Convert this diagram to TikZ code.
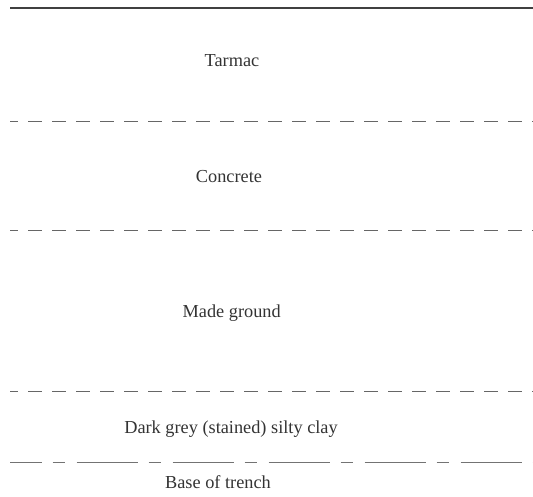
\documentclass[tikz,border=0pt]{standalone}
\usepackage{fontspec}
\setmainfont{Liberation Serif}
\begin{document}
\begin{tikzpicture}[x=1pt,y=-1pt,
  layername/.style={font=\fontsize{18.3}{22}\selectfont, text=black!80, anchor=base, inner sep=0pt},
  surface/.style={draw=black!75, line width=1.1pt},
  boundary/.style={draw=black!60, line width=0.8pt, dash pattern=on 13.5pt off 10.5pt, dash phase=6pt},
  trenchbase/.style={draw=black!55, line width=0.8pt, dash pattern=on 61pt off 11.2pt on 12.4pt off 11.4pt, dash phase=29.5pt}]
\useasboundingbox (0,0) rectangle (533,496);

% ground surface and layer boundaries
\coordinate (s0) at (10,8);      \coordinate (s1) at (533,8);
\coordinate (b1l) at (10,121.7); \coordinate (b1r) at (533,121.7);
\coordinate (b2l) at (10,230);   \coordinate (b2r) at (533,230);
\coordinate (b3l) at (10,391);   \coordinate (b3r) at (533,391);
\coordinate (b4l) at (10,462);   \coordinate (b4r) at (533,462);

\draw[surface] (s0) -- (s1);
\draw[boundary] (b1l) -- (b1r);
\draw[boundary] (b2l) -- (b2r);
\draw[boundary] (b3l) -- (b3r);
\draw[trenchbase] (b4l) -- (b4r);

% layer descriptions
\node[layername] (tarmac)   at (232,66.7)  {Tarmac};
\node[layername] (concrete) at (229,182.3) {Concrete};
\node[layername] (made)     at (231.7,317) {Made ground};
\node[layername] (clay)     at (231,433.5) {Dark grey (stained) silty clay};
\node[layername] (base)     at (218,488)   {Base of trench};
\end{tikzpicture}
\end{document}
